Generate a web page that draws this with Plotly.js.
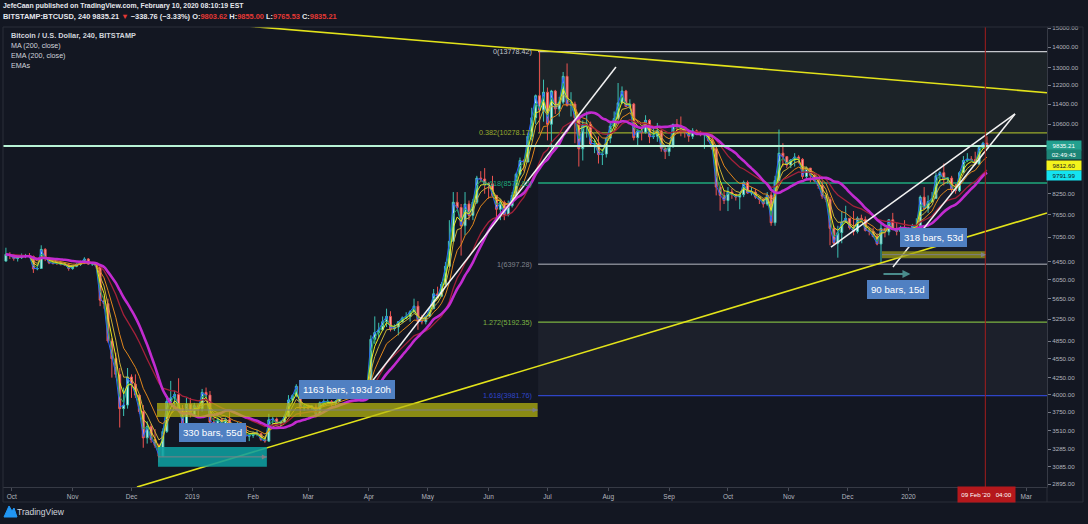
<!DOCTYPE html>
<html>
<head>
<meta charset="utf-8">
<script src="https://cdn.plot.ly/plotly-3.0.1.min.js"></script>
<style>
html,body{margin:0;padding:0;background:#131722;overflow:hidden}
#chart{width:1088px;height:524px}
</style>
</head>
<body>
<div id="chart"></div>
<script>
// ---------- DATA (2-day candles, BITSTAMP BTC/USD) ----------
const candleStart = '2018-09-27';
const firstOpen = 6470;
const highs = [6790,6680,6640,6590,6650,6640,6660,6600,6340,6850,
6780,6570,6480,6460,6440,6430,6420,6380,6420,6480,
6560,6540,6450,6440,6400,5700,5650,4900,4650,4400,
4100,4400,4300,4300,4000,3850,3630,3600,3530,3350,
3540,3950,4200,4050,4240,3850,3950,3950,3880,3870,
4080,4100,4050,3680,3680,3680,3680,3780,3600,3620,
3610,3590,3480,3500,3520,3480,3430,3730,3690,3680,
3640,3720,3990,4000,4150,4180,3850,3860,3850,3860,
3900,3930,3930,3920,3920,4030,4040,4050,4060,4020,
4070,4100,4140,4950,5300,5180,5300,5450,5400,5150,
5200,5300,5380,5420,5650,5600,5330,5320,5470,5850,
5900,6000,6450,7500,8300,8300,7950,8300,8050,8100,
8800,8950,9050,8600,8800,8200,8100,8050,8050,8300,
8900,9400,9350,10250,11250,11800,13780,12450,12100,12000,
12000,11700,12800,13200,11900,11500,11000,10750,11100,10700,
10050,10150,9700,10100,10700,11100,12300,12150,12000,11600,
11450,10400,10500,10950,10800,10450,10650,10400,9750,9800,
10600,10800,10900,10500,10350,10450,10400,10350,10300,10250,
10100,9800,8550,8350,8450,8400,8250,8300,8650,8650,
8450,8400,8150,8100,8300,8300,8800,10400,9900,9450,
9350,9550,9480,9380,9100,9050,8850,8700,8650,8250,
8150,7350,7350,7750,7900,7550,7750,7600,7650,7600,
7300,7300,7150,7430,7300,7520,7700,7450,7350,7500,
7300,7400,7550,8200,8450,8200,8300,8900,8950,9200,
8750,8800,8550,8950,9450,9550,9450,9600,9800,9950,
10150];
const lows = [6460,6520,6480,6460,6520,6540,6560,6200,6260,6290,
6470,6400,6390,6380,6370,6360,6250,6270,6330,6360,
6400,6380,6360,6300,5500,5450,4820,4250,4250,3550,
3700,3800,3950,3950,3730,3300,3350,3360,3300,3130,
3190,3480,3850,3820,3750,3570,3580,3680,3690,3680,
3760,3950,3580,3550,3470,3560,3580,3520,3520,3530,
3540,3420,3380,3420,3440,3380,3360,3370,3580,3580,
3560,3600,3690,3880,3960,3700,3770,3780,3780,3680,
3710,3840,3860,3830,3830,3890,3950,3960,3970,3950,
3930,4000,4060,4100,4800,4900,5040,5100,5020,5030,
4950,5180,5250,5200,5370,5050,5150,5150,5290,5440,
5660,5690,5940,6340,6940,7800,6600,7100,7500,7500,
7950,8600,8250,8100,8150,7450,7500,7500,7600,7850,
8200,8800,8950,9250,10000,10600,10300,10700,10000,9700,
11000,10900,11400,11300,10900,9900,9100,9300,10100,9800,
9550,9200,9150,9400,9900,10500,10800,11400,11300,11200,
10000,9800,10000,10250,9900,10050,9950,9600,9350,9450,
9750,10300,10150,10100,9950,10050,10250,10150,9700,9950,
9650,8200,7760,7950,7750,8100,8050,7800,8150,8250,
8200,8100,7950,7850,7900,7350,7350,8650,9100,9050,
9050,9100,9200,8700,8700,8600,8600,8400,8100,8000,
6850,6850,6550,6900,7450,7250,7100,7150,7450,7200,
7100,7050,6850,6430,7050,7100,7250,7100,7100,7200,
6900,6880,7300,7350,7800,7700,8000,8100,8600,8500,
8550,8300,8250,8300,8880,9250,9300,9150,9150,9700,
9780];
const closes = [6630,6600,6530,6550,6580,6600,6580,6290,6300,6750,
6550,6430,6420,6420,6400,6380,6300,6350,6390,6440,
6520,6400,6420,6350,5620,5550,4850,4550,4300,3800,
3850,4260,4150,3990,3760,3420,3560,3400,3330,3200,
3500,3900,3950,4000,3800,3600,3860,3720,3840,3800,
4030,3990,3620,3600,3650,3600,3650,3540,3560,3570,
3560,3440,3450,3470,3470,3400,3380,3650,3660,3610,
3620,3700,3920,3980,4120,3810,3820,3810,3820,3720,
3880,3900,3900,3880,3900,4000,3990,4020,4010,3990,
4020,4080,4120,4880,5000,5050,5200,5300,5070,5100,
5200,5270,5300,5390,5500,5200,5200,5300,5450,5750,
5700,5950,6350,6950,8000,7850,7350,7950,7630,8000,
8730,8700,8550,8550,8200,7800,8000,7650,7900,8200,
8850,9300,9250,10150,10850,11750,11150,11900,10600,11950,
11200,11480,12600,11350,11400,10850,9700,10550,10600,9870,
9880,9500,9520,10080,10530,10820,11450,11950,11300,11400,
10100,10350,10300,10750,10130,10150,10350,9720,9600,9770,
10600,10550,10480,10320,10150,10350,10300,10200,10250,10000,
9700,8450,8200,8050,8300,8230,8150,8220,8590,8270,
8300,8150,8080,7950,8210,7430,8650,9550,9430,9150,
9320,9420,9340,8780,9050,8820,8650,8500,8180,8080,
7280,6900,7170,7450,7550,7300,7200,7550,7520,7230,
7200,7070,6880,7280,7190,7510,7250,7200,7300,7220,
7200,7340,7350,8150,7820,8020,8110,8800,8900,8700,
8730,8380,8340,8900,9300,9350,9330,9180,9750,9900,
9835];

// moving averages shown on the chart (periods in 4h bars)
const emaPeriods = [13, 21, 34, 55, 100];
const emaColors  = ['#2962ff', '#26a65b', '#e8e81c', '#c9b037', '#e0861c'];
const ema200Color = '#a3213a';
const ma200Color = '#c22bd0';

// axis ticks
const monthTicks = ['2018-10-01','2018-11-01','2018-12-01','2019-01-01','2019-02-01','2019-03-01','2019-04-01','2019-05-01','2019-06-01','2019-07-01','2019-08-01','2019-09-01','2019-10-01','2019-11-01','2019-12-01','2020-01-01','2020-02-01','2020-03-01'];
const monthLabels = ['Oct','Nov','Dec','2019','Feb','Mar','Apr','May','Jun','Jul','Aug','Sep','Oct','Nov','Dec','2020','','Mar'];
const priceTicks = [15000,14000,13000,12200,11400,10600,8250,7650,7050,6450,6050,5650,5250,4850,4550,4250,4000,3750,3510,3285,3085,2895];

// fibonacci retracement
const fibRatios = [0, 0.382, 0.618, 1, 1.272, 1.618];
const fibPrices = [13778.42, 10278.17, 8575.82, 6397.28, 5192.35, 3981.76];
const fibColors = ['#c4c6cc', '#9aab2c', '#1fa97d', '#80838d', '#7cb342', '#2f45c8'];
const fibFills  = ['rgba(110,150,100,0.10)', 'rgba(40,150,110,0.05)', 'rgba(90,100,190,0.07)', 'rgba(90,110,80,0.03)', 'rgba(150,155,165,0.07)'];
const fibStart = '2019-06-26 06:00';
const fibEnd = '2020-03-30';

// drawings
const trendLines = [
  {x0:'2019-01-30 10:00', p0:15092, x1:'2020-03-11 14:00', p1:11877, color:'#e3e31a', w:1.6},
  {x0:'2018-12-03 19:00', p0:2864,  x1:'2020-03-11 14:00', p1:7697,  color:'#e3e31a', w:1.6},
  {x0:'2019-04-01 14:00', p0:4153,  x1:'2019-08-04 22:00', p1:13028, color:'#f2f2f2', w:1.5},
  {x0:'2019-11-22 12:00', p0:6804,  x1:'2020-02-24 07:00', p1:11000, color:'#f2f2f2', w:1.5},
  {x0:'2019-12-24 02:00', p0:6334,  x1:'2020-02-24 07:00', p1:11000, color:'#f2f2f2', w:1.5}
];
const supportLevel = 9798;
const zones = [
  {x0:'2018-12-14', x1:'2019-06-26', p0:3687, p1:3878, fill:'rgba(185,185,15,0.72)'},
  {x0:'2018-12-14 12:00', x1:'2019-02-08', p0:3080, p1:3310, fill:'rgba(14,158,158,0.88)'},
  {x0:'2019-12-18 12:00', x1:'2020-02-09 12:00', p0:6539, p1:6706, fill:'rgba(160,160,20,0.72)'}
];
const rangeLabels = [
  {text:'1163 bars, 193d 20h', x:'2019-03-20 14:00', p:4073},
  {text:'330 bars, 55d', x:'2019-01-11 07:00', p:3487},
  {text:'318 bars, 53d', x:'2020-01-13 19:00', p:7056},
  {text:'90 bars, 15d', x:'2019-12-26 10:00', p:5836}
];
const arrowRange = {x0:'2019-12-18 12:00', x1:'2020-01-02 00:00', p:6176};
const cursorTime = '2020-02-09 04:00';

// ---------- BUILD ----------
const FAM = 'Liberation Sans';
const FONT = "'Liberation Sans',Arial,sans-serif";
const L = v => Math.log10(v);
const PX = xp => (xp - 3) / 1044;
const PY = yp => (487 - yp) / 460;
const ctx = document.createElement('canvas').getContext('2d');
function fit(plain, bold, target) {
  ctx.font = (bold ? 'bold ' : '') + "100px '" + FAM + "'";
  return 100 * target / ctx.measureText(plain).width;
}

const dates = closes.map((_, i) => new Date(Date.UTC(2018, 8, 27) + (2 * i + 1) * 86400000).toISOString().slice(0, 10));
const opens = closes.map((c, i) => i === 0 ? firstOpen : closes[i - 1]);

function ema(period4h) {
  const a = Math.min(1, 2 / (period4h / 12 + 1));
  let e = closes[0];
  return closes.map(c => (e = e + a * (c - e)));
}
function sma(period4h) {
  const n = Math.round(period4h / 12);
  return closes.map((c, i) => {
    const s = closes.slice(Math.max(0, i - n + 1), i + 1);
    return s.reduce((a, b) => a + b, 0) / s.length;
  });
}

const traces = [];
traces.push({
  type: 'candlestick', x: dates, open: opens, high: highs, low: lows, close: closes,
  increasing: {line: {color: '#3cc2b3', width: 1}, fillcolor: '#dff5f1'},
  decreasing: {line: {color: '#ef5350', width: 1}, fillcolor: '#f4a7a6'},
  whiskerwidth: 0, hoverinfo: 'skip', showlegend: false
});
emaPeriods.forEach((p, k) => traces.push({
  type: 'scatter', mode: 'lines', x: dates, y: ema(p),
  line: {color: emaColors[k], width: 1}, hoverinfo: 'skip', showlegend: false
}));
traces.push({type: 'scatter', mode: 'lines', x: dates, y: ema(200), line: {color: ema200Color, width: 1.3}, hoverinfo: 'skip', showlegend: false});
traces.push({type: 'scatter', mode: 'lines', x: dates, y: sma(200), line: {color: ma200Color, width: 2.6, shape: 'spline'}, hoverinfo: 'skip', showlegend: false});

// shapes on the log price axis take price values (plotly v3)
const shapes = [];
for (let k = 0; k < fibPrices.length - 1; k++) {
  shapes.push({type: 'rect', xref: 'x', yref: 'y', x0: fibStart, x1: fibEnd, y0: fibPrices[k + 1], y1: fibPrices[k],
    fillcolor: fibFills[k], line: {width: 0}, layer: 'below'});
}
fibPrices.forEach((p, k) => shapes.push({type: 'line', xref: 'x', yref: 'y', x0: fibStart, x1: fibEnd, y0: p, y1: p,
  line: {color: fibColors[k], width: 1.3}, layer: 'below'}));
shapes.push({type: 'line', xref: 'paper', yref: 'y', x0: 0, x1: 1, y0: supportLevel, y1: supportLevel, line: {color: '#b8f3d6', width: 2}, layer: 'above'});
trendLines.forEach(t => shapes.push({type: 'line', xref: 'x', yref: 'y', x0: t.x0, x1: t.x1, y0: t.p0, y1: t.p1, line: {color: t.color, width: t.w}, layer: 'above'}));
zones.forEach(z => {
  shapes.push({type: 'rect', xref: 'x', yref: 'y', x0: z.x0, x1: z.x1, y0: z.p0, y1: z.p1, fillcolor: z.fill, line: {width: 0}, layer: 'above'});
  const m = Math.sqrt(z.p0 * z.p1);
  shapes.push({type: 'line', xref: 'x', yref: 'y', x0: z.x0, x1: z.x1, y0: m, y1: m, line: {color: '#7d7f86', width: 1}, layer: 'above'});
});
shapes.push({type: 'line', xref: 'x', yref: 'paper', x0: cursorTime, x1: cursorTime, y0: PY(502), y1: 1, line: {color: '#a31d1d', width: 1}, layer: 'above'});
const border = '#2a2e39';
shapes.push({type: 'line', xref: 'paper', yref: 'paper', x0: 0, x1: PX(1083), y0: 1, y1: 1, line: {color: border, width: 1}});
shapes.push({type: 'line', xref: 'paper', yref: 'paper', x0: 0, x1: PX(1083), y0: PY(502), y1: PY(502), line: {color: border, width: 1}});
shapes.push({type: 'line', xref: 'paper', yref: 'paper', x0: 0, x1: 0, y0: PY(502), y1: 1, line: {color: border, width: 1}});
shapes.push({type: 'line', xref: 'paper', yref: 'paper', x0: PX(1083), x1: PX(1083), y0: PY(502), y1: 1, line: {color: border, width: 1}});
shapes.push({type: 'line', xref: 'paper', yref: 'paper', x0: 1, x1: 1, y0: PY(502), y1: 0, line: {color: border, width: 1}});
shapes.push({type: 'path', xref: 'paper', yref: 'paper',
  path: `M ${PX(4)} ${PY(517)} L ${PX(9)} ${PY(506)} L ${PX(12)} ${PY(511)} L ${PX(14)} ${PY(508)} L ${PX(17)} ${PY(517)} Z`,
  fillcolor: '#2196f3', line: {color: '#2196f3', width: 1}});

const annotations = [];
const red = '#e53935';
const head1 = 'JefeCaan published on TradingView.com, February 10, 2020 08:10:19 EST';
annotations.push({xref: 'paper', yref: 'paper', x: PX(1), y: PY(6), xanchor: 'left', yanchor: 'middle', showarrow: false,
  text: '<b>' + head1 + '</b>', font: {family: FONT, size: fit(head1, true, 241), color: '#e6e8ee'}});
const head2 = 'BITSTAMP:BTCUSD, 240 9835.21 ▼ −338.76 (−3.33%) O:9803.62 H:9855.00 L:9765.53 C:9835.21';
annotations.push({xref: 'paper', yref: 'paper', x: PX(1), y: PY(17), xanchor: 'left', yanchor: 'middle', showarrow: false,
  text: `<b>BITSTAMP:BTCUSD, 240 9835.21 <span style="color:${red}">▼</span> −338.76 (−3.33%) O:<span style="color:${red}">9803.62</span> H:<span style="color:${red}">9855.00</span> L:<span style="color:${red}">9765.53</span> C:<span style="color:${red}">9835.21</span></b>`,
  font: {family: FONT, size: fit(head2, true, 334), color: '#e6e8ee'}});
const legendLines = ['Bitcoin / U.S. Dollar, 240, BITSTAMP', 'MA (200, close)', 'EMA (200, close)', 'EMAs'];
const legendY = [35, 46, 56, 66];
const legSize = fit(legendLines[0], true, 125);
legendLines.forEach((t, k) => annotations.push({xref: 'paper', yref: 'paper', x: PX(9), y: PY(legendY[k]), xanchor: 'left', yanchor: 'middle', showarrow: false,
  text: k === 0 ? '<b>' + t + '</b>' : t, font: {family: FONT, size: k === 0 ? legSize : fit(legendLines[2], false, 55), color: '#d1d4dc'}}));
const fibSize = fit('0(13778.42)', false, 39);
fibPrices.forEach((p, k) => annotations.push({xref: 'x', yref: 'y', x: fibStart, y: L(p), xanchor: 'right', yanchor: 'middle', xshift: -4, showarrow: false,
  text: `${fibRatios[k]}(${p.toFixed(2)})`, font: {family: FONT, size: fibSize, color: fibColors[k]}}));
const rlSize = fit('1163 bars, 193d 20h', false, 88);
rangeLabels.forEach(r => annotations.push({xref: 'x', yref: 'y', x: r.x, y: L(r.p), xanchor: 'center', yanchor: 'middle', showarrow: false,
  text: r.text, bgcolor: '#5080c2', bordercolor: '#5080c2', borderpad: 3, font: {family: FONT, size: rlSize, color: '#ffffff'}}));
annotations.push({xref: 'x', yref: 'y', axref: 'x', ayref: 'y', x: arrowRange.x1, y: L(arrowRange.p), ax: arrowRange.x0, ay: L(arrowRange.p),
  text: '', showarrow: true, arrowhead: 2, arrowsize: 0.8, arrowwidth: 2, arrowcolor: '#4a8c8c'});
// arrow heads at the end of the range midlines
zones.forEach(z => annotations.push({xref: 'x', yref: 'y', x: z.x1, y: (L(z.p0) + L(z.p1)) / 2, ax: -7, ay: 0,
  text: '', showarrow: true, arrowhead: 2, arrowsize: 1, arrowwidth: 1, arrowcolor: '#7d7f86'}));
const tickSize = fit('15000.00', false, 26);
const axisBoxes = [
  {t: '9835.21', y: 145, bg: '#22a08f', c: '#ffffff'},
  {t: '02:49:43', y: 155, bg: '#1c8577', c: '#ffffff'},
  {t: '9812.60', y: 165, bg: '#f3f31c', c: '#131722'},
  {t: '9791.99', y: 175, bg: '#14e3f0', c: '#131722'}
];
axisBoxes.forEach(b => annotations.push({xref: 'paper', yref: 'paper', x: PX(1046), y: PY(b.y), xanchor: 'left', yanchor: 'middle', showarrow: false,
  text: b.t, width: 33, height: 8, align: 'center', bgcolor: b.bg, borderpad: 0.5, font: {family: FONT, size: tickSize, color: b.c}}));
annotations.push({xref: 'paper', yref: 'paper', x: PX(986.5), y: PY(494.5), xanchor: 'center', yanchor: 'middle', showarrow: false,
  text: "09 Feb '20   04:00", width: 55, height: 13, align: 'center', bgcolor: '#b5181c', borderpad: 1, font: {family: FONT, size: tickSize, color: '#ffffff'}});
annotations.push({xref: 'paper', yref: 'paper', x: PX(15), y: PY(512), xanchor: 'left', yanchor: 'middle', showarrow: false,
  text: 'TradingView', font: {family: FONT, size: fit('TradingView', false, 47), color: '#d1d4dc'}});

const layout = {
  width: 1088, height: 524,
  paper_bgcolor: '#131722', plot_bgcolor: '#131722',
  margin: {l: 3, r: 41, t: 27, b: 37},
  showlegend: false, hovermode: false, dragmode: false,
  xaxis: {type: 'date', range: ['2018-09-26 12:20', '2020-03-11 14:25'], tickmode: 'array', tickvals: monthTicks, ticktext: monthLabels,
    showgrid: false, zeroline: false, showline: true, linecolor: '#363a45', ticks: 'outside', ticklen: 3, tickcolor: '#4a4e59',
    tickfont: {family: FONT, size: tickSize + 0.3, color: '#b2b5be'}, rangeslider: {visible: false}, fixedrange: true},
  yaxis: {type: 'log', side: 'right', range: [3.45702, 4.17766], tickmode: 'array', tickvals: priceTicks, ticktext: priceTicks.map(v => v.toFixed(2)),
    showgrid: false, zeroline: false, showline: true, linecolor: '#363a45', ticks: 'outside', ticklen: 3, tickcolor: '#787b86',
    tickfont: {family: FONT, size: tickSize, color: '#b2b5be'}, fixedrange: true},
  shapes: shapes, annotations: annotations
};

Plotly.newPlot('chart', traces, layout, {staticPlot: true, displayModeBar: false});
</script>
</body>
</html>
